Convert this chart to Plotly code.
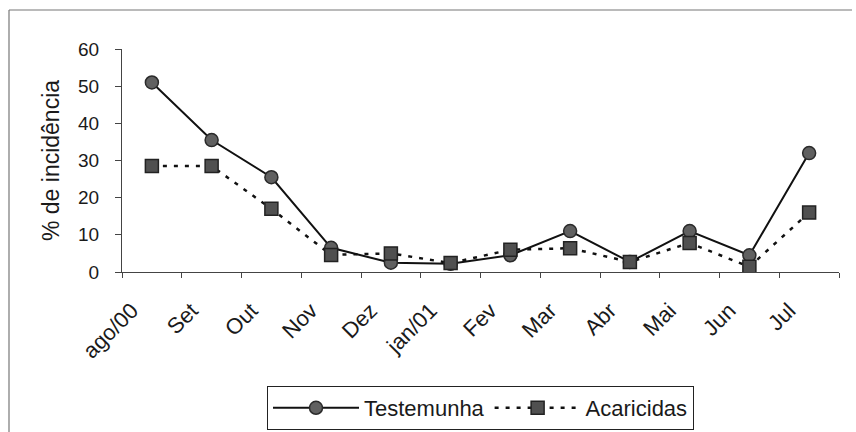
import plotly.graph_objects as go

months = ["ago/00", "Set", "Out", "Nov", "Dez", "jan/01", "Fev", "Mar", "Abr", "Mai", "Jun", "Jul"]
testemunha = [51, 35.5, 25.5, 6.5, 2.5, 2.2, 4.5, 11, 2.7, 11, 4.5, 32]
acaricidas = [28.5, 28.5, 17, 4.6, 5, 2.4, 6, 6.4, 2.7, 7.8, 1.4, 16]

W, H = 856, 432
L, R, T, B = 122, 839, 49, 272
pw, ph = R - L, B - T

def px_x(x):
    return (x - L) / pw

def px_y(y):
    return (B - y) / ph

FAM = "Liberation Sans, Arial, sans-serif"
TXT = "#1a1a1a"

fig = go.Figure()
fig.add_trace(go.Scatter(
    x=months, y=testemunha, name="Testemunha", mode="lines+markers",
    line=dict(color="#111111", width=2),
    marker=dict(symbol="circle", size=13, color="#606060", line=dict(color="#2a2a2a", width=1.5)),
))
fig.add_trace(go.Scatter(
    x=months, y=acaricidas, name="Acaricidas", mode="lines+markers",
    line=dict(color="#111111", width=2.5, dash="4px,7px"),
    marker=dict(symbol="square", size=13, color="#505050", line=dict(color="#222222", width=1.5)),
))

fig.update_layout(
    width=W, height=H,
    margin=dict(l=L, r=W - R, t=T, b=H - B, autoexpand=False),
    paper_bgcolor="white", plot_bgcolor="white",
    font=dict(family=FAM, size=19, color=TXT),
    showlegend=True,
    legend=dict(
        orientation="h", x=0.5, xanchor="center", y=px_y(430), yanchor="bottom",
        bordercolor="#222222", borderwidth=1, bgcolor="white",
        font=dict(family=FAM, size=22, color=TXT),
        itemwidth=86, tracegroupgap=0,
    ),
    xaxis=dict(
        type="category", tickson="boundaries", tickangle=-45,
        showline=True, linecolor="#444444", linewidth=1,
        ticks="outside", ticklen=5, tickcolor="#444444",
        showgrid=False, zeroline=False,
        tickfont=dict(family=FAM, size=22, color=TXT),
        ticklabelstandoff=16, ticklabelshift=-20,
        range=[-0.5, 11.5],
    ),
    yaxis=dict(
        range=[0, 60], dtick=10,
        showline=True, linecolor="#444444", linewidth=1,
        ticks="outside", ticklen=6, tickcolor="#444444",
        showgrid=False, zeroline=False,
        tickfont=dict(family=FAM, size=19, color=TXT),
        ticklabelstandoff=12,
        title=dict(text="% de incidência", standoff=12,
                   font=dict(family=FAM, size=23, color=TXT)),
    ),
    shapes=[
        dict(type="line", xref="paper", yref="paper", x0=px_x(9), x1=px_x(9), y0=px_y(10), y1=px_y(440),
             line=dict(color="#777777", width=1.2)),
        dict(type="line", xref="paper", yref="paper", x0=px_x(9), x1=px_x(852), y0=px_y(10), y1=px_y(10),
             line=dict(color="#777777", width=1.2)),
    ],
)

fig.write_html("out.html")
